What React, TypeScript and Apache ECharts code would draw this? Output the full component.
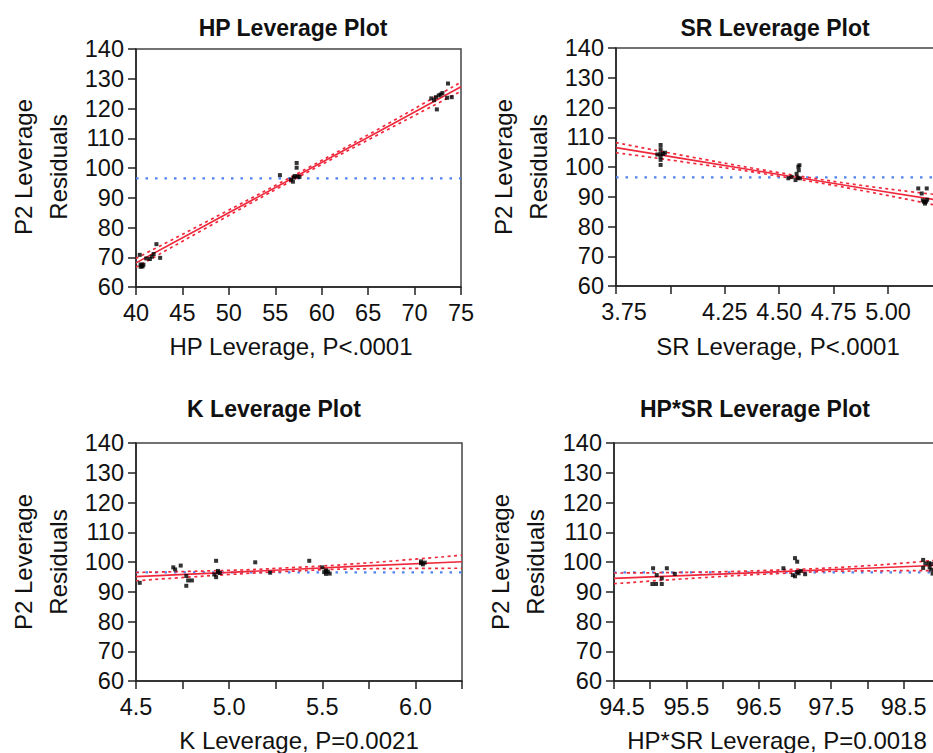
import React, { useEffect, useRef } from "react";
import * as echarts from "echarts";

// ---- Data ----
const meanY = 96.5;

const hpPoints: number[][] = [
  [40.4, 70.8], [40.5, 67.6], [40.6, 67.2], [40.7, 66.9], [40.5, 66.8], [40.8, 67.5],
  [41.1, 69.6], [41.5, 69.4], [41.7, 70.2], [41.9, 71.1], [42.2, 74.4], [42.6, 69.8],
  [55.5, 97.6], [56.7, 96.1], [56.9, 95.4], [57.0, 96.8], [57.1, 97.3], [57.3, 100.1],
  [57.3, 101.7], [57.6, 97.0], [57.4, 97.2],
  [71.8, 123.4], [72.1, 122.8], [72.4, 119.7], [72.3, 123.8], [72.6, 124.4], [72.8, 124.7],
  [73.6, 128.4], [73.5, 123.6], [74.0, 123.8], [73.0, 125.2],
];
const hpX = [40, 48, 57, 66, 75];
const hpFit = [68.1, 81.6, 96.8, 112.0, 127.3];
const hpUpper = [69.6, 82.6, 97.5, 112.9, 128.9];
const hpLower = [66.6, 80.6, 96.1, 111.1, 125.8];

const srPoints: number[][] = [
  [3.955, 107.4], [3.955, 106.0], [3.955, 104.6], [3.967, 104.4], [3.94, 104.2], [3.955, 103.5],
  [3.955, 102.4], [3.955, 100.7], [3.975, 104.8],
  [4.542, 96.2], [4.557, 96.7], [4.588, 100.1], [4.593, 100.6], [4.59, 98.9], [4.58, 97.7],
  [4.575, 95.6], [4.595, 96.2], [4.585, 96.4],
  [5.139, 92.8], [5.178, 92.8], [5.155, 91.1], [5.16, 88.8], [5.165, 88.3], [5.17, 87.7],
  [5.175, 88.4], [5.18, 89.0],
];
const srX = [3.75, 4.1, 4.5, 4.9, 5.25];
const srFit = [106.5, 102.3, 97.5, 92.7, 88.6];
const srUpper = [108.2, 103.3, 98.1, 93.6, 90.5];
const srLower = [104.8, 101.3, 96.9, 91.8, 86.7];

const kPoints: number[][] = [
  [4.52, 93.0], [4.70, 98.2], [4.71, 97.5], [4.74, 98.8], [4.77, 95.3], [4.77, 92.0],
  [4.78, 93.8], [4.80, 93.8], [4.93, 100.4], [4.92, 95.8], [4.94, 96.5], [4.93, 94.9],
  [4.94, 97.0], [4.95, 96.3], [5.14, 99.9], [5.22, 96.4], [5.43, 100.4], [5.50, 98.2],
  [5.51, 96.6], [5.52, 96.0], [5.53, 96.8], [5.54, 96.1], [5.52, 97.2],
  [6.03, 99.6], [6.04, 99.2], [6.05, 99.8], [6.03, 100.2],
];
const kX = [4.5, 5.0, 5.3, 5.7, 6.25];
const kFit = [95.1, 96.5, 97.4, 98.6, 100.1];
const kUpper = [96.5, 97.2, 98.0, 99.5, 102.3];
const kLower = [93.7, 95.8, 96.8, 97.7, 97.9];

const hsPoints: number[][] = [
  [95.04, 97.9], [95.23, 97.9], [95.09, 95.6], [95.16, 94.5], [95.03, 92.6], [95.08, 92.6],
  [95.16, 92.6], [95.34, 96.0],
  [96.84, 97.9], [97.0, 101.3], [97.03, 100.1], [96.97, 95.6], [97.0, 95.2], [97.08, 97.0],
  [97.03, 96.6], [97.14, 95.9], [97.05, 96.2],
  [98.77, 100.7], [98.8, 99.5], [98.85, 99.6], [98.88, 99.4], [98.77, 98.0], [98.88, 97.4],
  [98.9, 96.1], [98.86, 98.2],
];
const hsX = [94.5, 95.7, 96.8, 97.9, 99.0];
const hsFit = [94.5, 95.67, 96.75, 97.82, 98.9];
const hsUpper = [96.3, 96.6, 97.35, 98.6, 100.7];
const hsLower = [92.7, 94.7, 96.15, 97.0, 97.1];

const titles = ["HP Leverage Plot", "SR Leverage Plot", "K Leverage Plot", "HP*SR Leverage Plot"];
const xNames = [
  "HP Leverage, P<.0001",
  "SR Leverage, P<.0001",
  "K Leverage, P=0.0021",
  "HP*SR Leverage, P=0.0018",
];
const yNameLines = ["P2 Leverage", "Residuals"];

const FONT = "'Liberation Sans', Arial, Helvetica, sans-serif";
const RED = "#f0283c";
const BLUE = "#4f82f0";
const AXIS = "#222";

const zip = (xs: number[], ys: number[]) => xs.map((x, i) => [x, ys[i]]);

export default function App() {
  const ref = useRef<HTMLDivElement>(null);

  useEffect(() => {
    document.body.style.margin = "0";
    if (!ref.current) return;
    const chart = echarts.init(ref.current, null, { renderer: "svg" });

    const grids = [
      { left: 136, top: 49, width: 325, height: 238 },
      { left: 616, top: 48, width: 326.4, height: 238 },
      { left: 136, top: 443, width: 326, height: 238 },
      { left: 614, top: 443, width: 325.8, height: 238 },
    ].map((g) => ({
      ...g,
      show: true,
      borderColor: "#444",
      borderWidth: 1.5,
      containLabel: false,
      outerBoundsMode: "none",
    }));

    const labelBase = {
      fontSize: 23.5,
      color: "#111",
      fontFamily: FONT,
    };

    const near = (a: number, b: number) => Math.abs(a - b) < 1e-6;

    const xAxisBase = (i: number, min: number, max: number, interval: number, fmt: (v: number) => string) => ({
      type: "value",
      gridIndex: i,
      min,
      max,
      interval,
      splitLine: { show: false },
      axisLine: { show: true, onZero: false, lineStyle: { color: AXIS, width: 1.5 } },
      axisTick: { show: true, length: 8, lineStyle: { color: AXIS, width: 1.5 } },
      axisLabel: {
        ...labelBase,
        margin: 14,
        showMinLabel: true,
        showMaxLabel: true,
        hideOverlap: false,
        formatter: fmt,
        rich: {
          s: { ...labelBase, padding: [0, 0, 0, 16] },
        },
      },
    });

    const xAxes = [
      xAxisBase(0, 40, 75, 5, (v) => String(Math.round(v))),
      xAxisBase(1, 3.75, 5.25, 0.25, (v) => {
        if (near(v, 3.75)) return "{s|3.75}";
        if (near(v, 4.0) || v > 5.1) return "";
        return v.toFixed(2);
      }),
      xAxisBase(2, 4.5, 6.25, 0.25, (v) => (near(v * 2, Math.round(v * 2)) ? v.toFixed(1) : "")),
      xAxisBase(3, 94.5, 99, 0.5, (v) => {
        const k = v - 94.5;
        if (!near(k, Math.round(k)) || v > 98.7) return "";
        if (near(v, 94.5)) return "{s|94.5}";
        return v.toFixed(1);
      }),
    ];

    const yAxes = [0, 1, 2, 3].map((i) => ({
      type: "value",
      gridIndex: i,
      min: 60,
      max: 140,
      interval: 10,
      splitLine: { show: false },
      axisLine: { show: true, onZero: false, lineStyle: { color: AXIS, width: 1.5 } },
      axisTick: { show: true, length: 8, lineStyle: { color: AXIS, width: 1.5 } },
      axisLabel: { ...labelBase, margin: 12 },
    }));

    const panels = [
      { pts: hpPoints, xs: hpX, fit: hpFit, up: hpUpper, lo: hpLower, min: 40, max: 75 },
      { pts: srPoints, xs: srX, fit: srFit, up: srUpper, lo: srLower, min: 3.75, max: 5.25 },
      { pts: kPoints, xs: kX, fit: kFit, up: kUpper, lo: kLower, min: 4.5, max: 6.25 },
      { pts: hsPoints, xs: hsX, fit: hsFit, up: hsUpper, lo: hsLower, min: 94.5, max: 99 },
    ];

    const series: any[] = [];
    panels.forEach((p, i) => {
      const common = { xAxisIndex: i, yAxisIndex: i, symbol: "none", silent: true, clip: true };
      series.push({
        ...common,
        type: "line",
        data: [[p.min, meanY], [p.max, meanY]],
        lineStyle: { color: BLUE, width: 2.4, type: [2.5, 7] },
        z: 2,
      });
      series.push({
        ...common,
        type: "line",
        smooth: true,
        data: zip(p.xs, p.up),
        lineStyle: { color: RED, width: 1.7, type: [3, 3.5] },
        z: 3,
      });
      series.push({
        ...common,
        type: "line",
        smooth: true,
        data: zip(p.xs, p.lo),
        lineStyle: { color: RED, width: 1.7, type: [3, 3.5] },
        z: 3,
      });
      series.push({
        ...common,
        type: "line",
        data: zip(p.xs, p.fit),
        lineStyle: { color: RED, width: 1.6 },
        z: 4,
      });
      series.push({
        type: "scatter",
        xAxisIndex: i,
        yAxisIndex: i,
        symbol: "rect",
        symbolSize: 4,
        itemStyle: { color: "#000" },
        data: p.pts,
        silent: true,
        z: 5,
      });
    });

    const titlePos = [
      [293, 28],
      [775, 28],
      [274, 409],
      [755, 409],
    ];
    const xNamePos = [
      [291, 346],
      [778, 346],
      [299, 740],
      [777, 740],
    ];
    const yNamePos = [
      [23, 58, 167],
      [503, 538, 167],
      [23, 58, 562],
      [500, 535, 562],
    ];

    const graphics: any[] = [];
    titles.forEach((t, i) => {
      graphics.push({
        type: "text",
        x: titlePos[i][0],
        y: titlePos[i][1],
        style: {
          text: t,
          fill: "#111",
          font: `bold 23px ${FONT}`,
          textAlign: "center",
          textVerticalAlign: "middle",
        },
      });
    });
    xNames.forEach((t, i) => {
      graphics.push({
        type: "text",
        x: xNamePos[i][0],
        y: xNamePos[i][1],
        style: {
          text: t,
          fill: "#111",
          font: `24px ${FONT}`,
          textAlign: "center",
          textVerticalAlign: "middle",
        },
      });
    });
    yNamePos.forEach((pos, i) => {
      yNameLines.forEach((line, j) => {
        graphics.push({
          type: "text",
          x: pos[j],
          y: pos[2],
          rotation: Math.PI / 2,
          style: {
            text: line,
            fill: "#111",
            font: `24px ${FONT}`,
            textAlign: "center",
            textVerticalAlign: "middle",
          },
        });
      });
    });

    chart.setOption({
      animation: false,
      backgroundColor: "#fff",
      grid: grids,
      xAxis: xAxes,
      yAxis: yAxes,
      series,
      graphic: graphics,
    });

    return () => chart.dispose();
  }, []);

  return <div ref={ref} style={{ width: 933, height: 753 }} />;
}
